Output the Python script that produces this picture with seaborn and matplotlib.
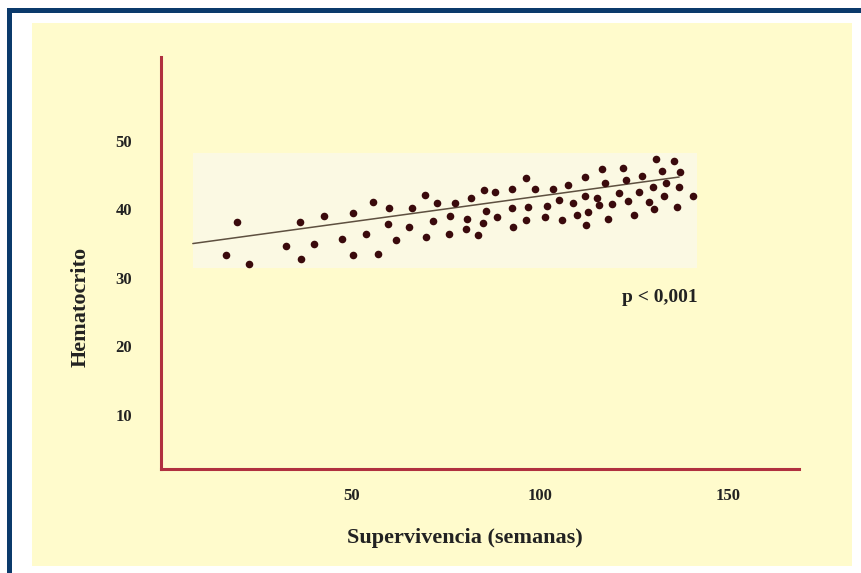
import matplotlib
matplotlib.use("Agg")
import matplotlib.pyplot as plt
from matplotlib.patches import Rectangle
import seaborn as sns
import pandas as pd

# ---------------- data ----------------
supervivencia = [19.6, 16.8, 23.0, 32.7, 36.4, 36.7, 40.1, 42.8, 47.6, 50.6,
                 50.6, 53.9, 55.7, 57.0, 59.7, 60.1, 61.8, 65.3, 66.1, 69.7,
                 69.8, 71.8, 72.7, 76.0, 76.2, 77.5, 80.5, 80.6, 81.9, 83.7,
                 84.9, 85.2, 85.8, 88.1, 88.7, 92.8, 92.8, 93.0, 96.4, 96.4,
                 96.9, 98.8, 102.0, 101.4, 103.6, 105.2, 105.8, 107.6, 108.8, 109.8,
                 112.1, 112.1, 112.9, 112.2, 115.3, 115.8, 116.5, 117.4, 118.1, 119.2,
                 121.0, 122.1, 122.9, 123.5, 124.9, 126.4, 127.1, 129.0, 130.0, 130.3,
                 130.9, 132.5, 133.0, 133.6, 135.6, 137.2, 137.1, 136.5, 140.7]
hematocrito = [38.1, 33.3, 32.0, 34.7, 38.1, 32.8, 35.0, 39.0, 35.7, 39.5,
               33.3, 36.4, 41.1, 33.5, 37.8, 40.2, 35.5, 37.4, 40.2, 42.1,
               35.9, 38.3, 40.9, 36.4, 39.0, 40.9, 37.1, 38.6, 41.6, 36.2,
               38.0, 42.8, 39.7, 42.5, 38.8, 42.9, 40.2, 37.4, 44.5, 38.5,
               40.4, 43.0, 40.5, 38.8, 42.9, 41.4, 38.4, 43.6, 40.9, 39.2,
               44.7, 42.0, 39.6, 37.7, 41.7, 40.6, 45.9, 43.9, 38.6, 40.7,
               42.3, 46.0, 44.2, 41.2, 39.1, 42.5, 44.9, 41.1, 43.2, 40.0,
               47.3, 45.6, 42.0, 43.8, 47.1, 45.4, 43.2, 40.4, 42.0]
fit_x = [8.0, 137.0]
fit_y = [35.0, 44.7]
x_ticks = [50, 100, 150]
y_ticks = [10, 20, 30, 40, 50]
x_label = "Supervivencia (semanas)"
y_label = "Hematocrito"
p_text = "p < 0,001"

df = pd.DataFrame({"Supervivencia": supervivencia, "Hematocrito": hematocrito})
fit = pd.DataFrame({"x": fit_x, "y": fit_y})

# ---------------- figure ----------------
sns.set_style("white")
plt.rcParams["font.family"] = ["Liberation Serif", "DejaVu Serif"]
W, H = 862, 573
fig = plt.figure(figsize=(W / 100, H / 100), dpi=100)
fig.patch.set_facecolor("white")

def fx(px):
    return px / W

def fy(py):
    return 1 - py / H

# dark blue frame (top & left visible), white margin, yellow panel
fig.patches.append(Rectangle((fx(7), -0.1), 2, fy(8) + 0.1, transform=fig.transFigure,
                             facecolor="#0B3A6B", edgecolor="none", zorder=-3))
fig.patches.append(Rectangle((fx(12), -0.1), 2, fy(13) + 0.1, transform=fig.transFigure,
                             facecolor="white", edgecolor="none", zorder=-2))
fig.patches.append(Rectangle((fx(32), fy(566)), fx(852) - fx(32), fy(23) - fy(566),
                             transform=fig.transFigure, facecolor="#FFFBCC",
                             edgecolor="none", zorder=-1))

ax = fig.add_axes([fx(161), fy(469), fx(799) - fx(161), fy(57) - fy(469)])
ax.patch.set_visible(False)

# lighter band behind the points
ax.add_patch(Rectangle((8.1, 31.4), 141.7 - 8.1, 48.2 - 31.4,
                       facecolor="#FBF9E3", edgecolor="none", zorder=0.5))

sns.lineplot(data=fit, x="x", y="y", ax=ax, color="#5E5040", linewidth=1.1, zorder=2)
sns.scatterplot(data=df, x="Supervivencia", y="Hematocrito", ax=ax,
                color="#3A0A0C", s=30, linewidth=0, zorder=3)

ax.text(131.9, 27.2, p_text, ha="center", va="center", fontsize=14,
        fontweight="bold", color="#222222")

ax.set_xlim(-0.44, 168.8)
ax.set_ylim(2.13, 62.2)
ax.set_xticks(x_ticks)
ax.set_yticks(y_ticks)
ax.set_xticklabels([str(v) for v in x_ticks], fontsize=12, fontweight="bold", color="#222222")
ax.set_yticklabels([str(v) for v in y_ticks], fontsize=12, fontweight="bold", color="#222222")
ax.tick_params(axis="y", length=0, pad=21)
ax.tick_params(axis="x", length=0, pad=14)

for s in ["top", "right"]:
    ax.spines[s].set_visible(False)
for s in ["left", "bottom"]:
    ax.spines[s].set_color("#B0303F")
    ax.spines[s].set_linewidth(2.2)

ax.set_xlabel(x_label, fontsize=16, fontweight="bold", color="#222222", va="center")
ax.set_ylabel(y_label, fontsize=16, fontweight="bold", color="#222222", va="center")
ax.xaxis.set_label_coords((465 - 161) / 638, (469 - 538) / 412)
ax.yaxis.set_label_coords((81 - 161) / 638, (469 - 306.5) / 412)

fig.savefig("out.png", dpi=100)
